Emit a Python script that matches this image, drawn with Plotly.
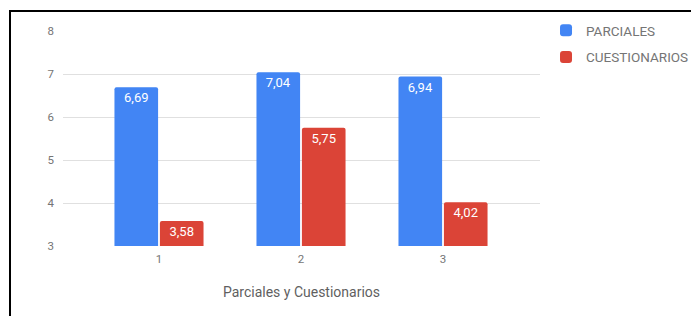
import plotly.graph_objects as go

categories = ["1", "2", "3"]
parciales = [6.69, 7.04, 6.94]
cuestionarios = [3.58, 5.75, 4.02]
y_ticks = [3, 4, 5, 6, 7, 8]

BLUE = "#4285F4"
RED = "#DB4437"

fig = go.Figure()
fig.add_trace(go.Bar(
    x=[0, 1, 2], y=parciales, name="PARCIALES", legendgroup="a",
    marker=dict(color=BLUE, cornerradius=2, line=dict(width=0)),
    texttemplate="%{y:.2f}", textposition="inside", insidetextanchor="end",
    textfont=dict(color="white", size=13, family="Roboto"), constraintext="none",
))
fig.add_trace(go.Bar(
    x=[0, 1, 2], y=cuestionarios, name="CUESTIONARIOS", legendgroup="b",
    marker=dict(color=RED, cornerradius=2, line=dict(width=0)),
    texttemplate="%{y:.2f}", textposition="inside", insidetextanchor="end",
    textfont=dict(color="white", size=13, family="Roboto"), constraintext="none",
))

fig.update_layout(
    width=691, height=308,
    margin=dict(l=55, r=159, t=23, b=70, autoexpand=False),
    paper_bgcolor="white", plot_bgcolor="white",
    separators=",.",
    barmode="group", bargap=0.36, bargroupgap=0.04,
    font=dict(family="Roboto", color="#757575", size=11),
    showlegend=True,
    legend=dict(xref="container", yref="container", x=0.7786, xanchor="left",
                y=0.977, yanchor="top",
                font=dict(size=13.5, color="#757575"), tracegroupgap=6,
                traceorder="grouped", itemwidth=30, bgcolor="rgba(0,0,0,0)"),
    xaxis=dict(
        range=[-0.676, 2.683], tickmode="array", tickvals=[0, 1, 2], ticktext=categories,
        showgrid=False, showline=False, zeroline=False, ticks="", ticklabelstandoff=4,
        tickfont=dict(size=11.5, color="#757575"),
        title=dict(text="Parciales y Cuestionarios", font=dict(size=14, color="#5f5f5f"), standoff=22),
    ),
    yaxis=dict(
        range=[3, 8], tickvals=y_ticks, showgrid=True, gridcolor="#e0e0e0", gridwidth=1,
        zeroline=False, showline=False, ticks="", ticklabelstandoff=8,
        tickfont=dict(size=11.5, color="#757575"),
    ),
    shapes=[dict(type="rect", xref="paper", yref="paper",
                 x0=(10 - 63) / 477, x1=(730 - 63) / 477,
                 y0=1 - (340 - 31) / 215, y1=1 + (31 - 11) / 215,
                 line=dict(color="black", width=2), layer="above")],
)

fig.write_html("out.html")
